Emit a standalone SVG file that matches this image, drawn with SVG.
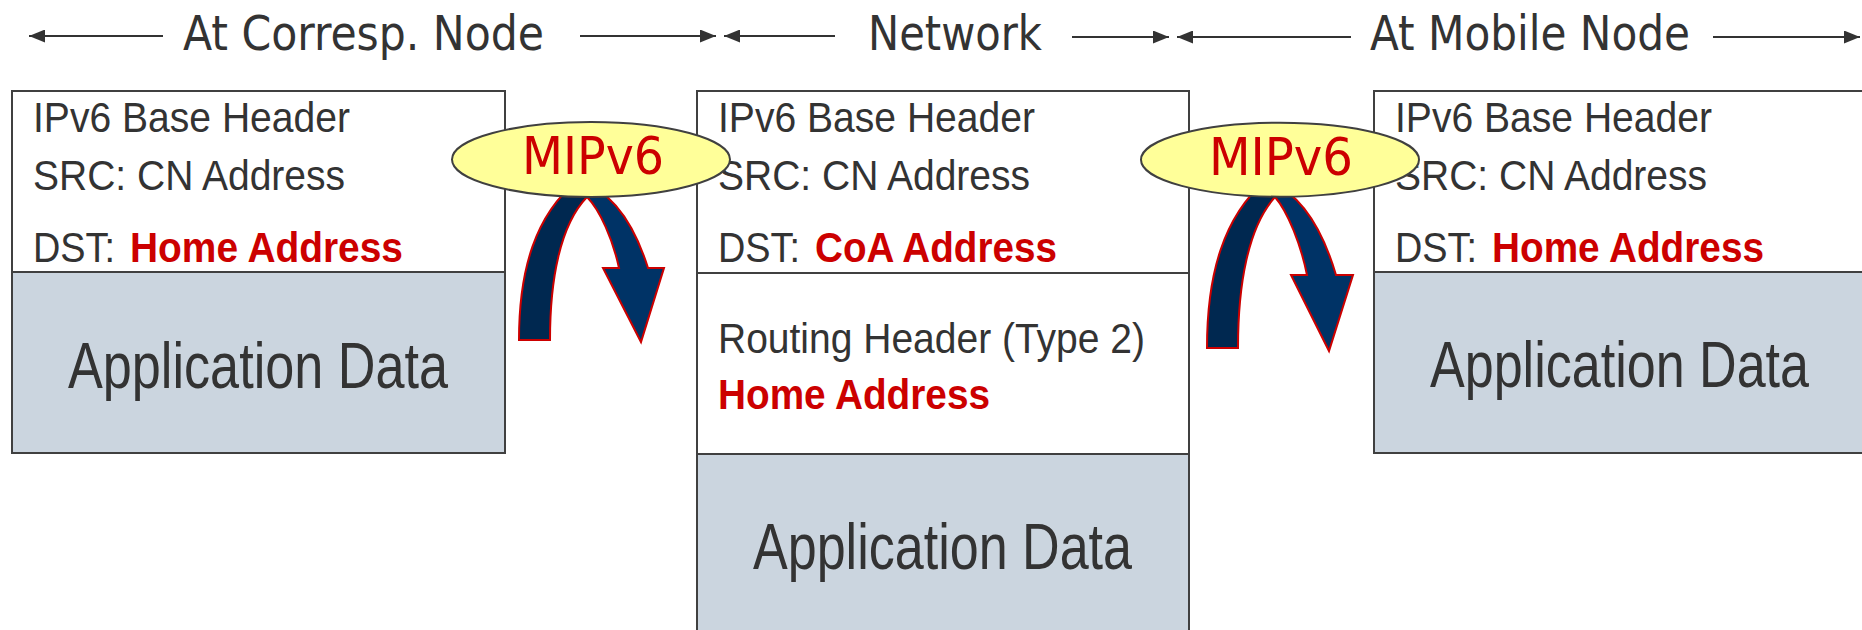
<svg xmlns="http://www.w3.org/2000/svg" width="1862" height="630" viewBox="0 0 1862 630">
  <style>
    .hdr { font-family: "DejaVu Sans Condensed", "DejaVu Sans", sans-serif; font-size: 48px; fill: #333333; }
    .box { fill: #ffffff; stroke: #404040; stroke-width: 2; }
    .data { fill: #cbd5df; stroke: #404040; stroke-width: 2; }
    .txt { font-family: "Liberation Sans", Arial, sans-serif; font-size: 42px; fill: #333333; }
    .red { font-family: "Liberation Sans", Arial, sans-serif; font-size: 42px; font-weight: bold; fill: #cc0000; }
    .big { font-family: "Liberation Sans", Arial, sans-serif; font-size: 52px; fill: #333333; }
    .span { stroke: #333333; stroke-width: 2; fill: none; marker-end: url(#head); }
    .oval { fill: #ffff99; stroke: #404040; stroke-width: 2; }
    .mip { font-family: "DejaVu Sans Condensed", "DejaVu Sans", sans-serif; font-size: 52px; fill: #cc0000; }
    .legA { fill: #002850; stroke: #cc0000; stroke-width: 2; stroke-linejoin: miter; }
    .legB { fill: #003366; stroke: #cc0000; stroke-width: 2; stroke-linejoin: miter; }
  </style>
  <defs>
    <marker id="head" markerUnits="userSpaceOnUse" markerWidth="16" markerHeight="13" refX="16" refY="6.5" orient="auto">
      <path d="M0,0 L16,6.5 L0,13 Z" fill="#333333"/>
    </marker>
  </defs>

  <!-- section labels -->
  <g id="label-cn">
    <text class="hdr" x="183" y="50" textLength="361" lengthAdjust="spacingAndGlyphs">At Corresp. Node</text>
  </g>
  <g id="label-net">
    <text class="hdr" x="868" y="50" textLength="174" lengthAdjust="spacingAndGlyphs">Network</text>
  </g>
  <g id="label-mn">
    <text class="hdr" x="1370" y="50" textLength="320" lengthAdjust="spacingAndGlyphs">At Mobile Node</text>
  </g>

  <!-- packet at the correspondent node -->
  <g id="packet-cn">
    <rect class="box" x="12" y="91" width="493" height="181"/>
    <rect class="data" x="12" y="272" width="493" height="181"/>
    <text class="txt" x="33" y="132" textLength="317" lengthAdjust="spacingAndGlyphs">IPv6 Base Header</text>
    <text class="txt" x="33" y="190" textLength="312" lengthAdjust="spacingAndGlyphs">SRC: CN Address</text>
    <text class="txt" x="33" y="262" textLength="82" lengthAdjust="spacingAndGlyphs">DST:</text>
    <text class="red" x="130" y="262" textLength="273" lengthAdjust="spacingAndGlyphs">Home Address</text>
    <text class="big" transform="translate(68,388) scale(1,1.23)" textLength="380" lengthAdjust="spacingAndGlyphs">Application Data</text>
  </g>

  <!-- packet in the network -->
  <g id="packet-net">
    <rect class="box" x="697" y="91" width="492" height="182"/>
    <rect class="box" x="697" y="273" width="492" height="181"/>
    <rect class="data" x="697" y="454" width="492" height="190"/>
    <text class="txt" x="718" y="132" textLength="317" lengthAdjust="spacingAndGlyphs">IPv6 Base Header</text>
    <text class="txt" x="718" y="190" textLength="312" lengthAdjust="spacingAndGlyphs">SRC: CN Address</text>
    <text class="txt" x="718" y="262" textLength="82" lengthAdjust="spacingAndGlyphs">DST:</text>
    <text class="red" x="815" y="262" textLength="242" lengthAdjust="spacingAndGlyphs">CoA Address</text>
    <text class="txt" x="718" y="353" textLength="427" lengthAdjust="spacingAndGlyphs">Routing Header (Type 2)</text>
    <text class="red" x="718" y="409" textLength="272" lengthAdjust="spacingAndGlyphs">Home Address</text>
    <text class="big" transform="translate(753,569) scale(1,1.23)" textLength="379" lengthAdjust="spacingAndGlyphs">Application Data</text>
  </g>

  <!-- packet at the mobile node -->
  <g id="packet-mn">
    <rect class="box" x="1374" y="91" width="500" height="181"/>
    <rect class="data" x="1374" y="272" width="500" height="181"/>
    <text class="txt" x="1395" y="132" textLength="317" lengthAdjust="spacingAndGlyphs">IPv6 Base Header</text>
    <text class="txt" x="1395" y="190" textLength="312" lengthAdjust="spacingAndGlyphs">SRC: CN Address</text>
    <text class="txt" x="1395" y="262" textLength="82" lengthAdjust="spacingAndGlyphs">DST:</text>
    <text class="red" x="1492" y="262" textLength="272" lengthAdjust="spacingAndGlyphs">Home Address</text>
    <text class="big" transform="translate(1430,387) scale(1,1.23)" textLength="379" lengthAdjust="spacingAndGlyphs">Application Data</text>
  </g>

  <!-- span arrows and header rewrite arrows -->
  <g id="connectors">
    <line class="span" x1="163" y1="36" x2="29" y2="36"/>
    <line class="span" x1="580" y1="36" x2="716" y2="36"/>
    <line class="span" x1="835" y1="36" x2="724" y2="36"/>
    <line class="span" x1="1072" y1="37" x2="1169" y2="37"/>
    <line class="span" x1="1351" y1="37" x2="1177" y2="37"/>
    <line class="span" x1="1713" y1="37" x2="1860" y2="37"/>

    <g id="turn-cn-net">
      <path class="legA" d="M519,340 C519,270 535,215 578,180 L587,197 C560,225 550,280 550,340 Z"/>
      <path class="legB" d="M578,180 Q625,195 648,268 L664,268 L641,342 L603,268 L619,268 C613,240 600,210 587,197 Z"/>
    </g>
    <g id="turn-net-mn">
      <path class="legA" d="M1207,348 C1207,275 1223,217 1266,180 L1275,197 C1248,227 1238,285 1238,348 Z"/>
      <path class="legB" d="M1266,180 Q1313,197 1336,275 L1353,275 L1329,351 L1291,275 L1307,275 C1301,245 1288,212 1275,197 Z"/>
    </g>
  </g>

  <!-- MIPv6 processing points -->
  <g id="mipv6-cn">
    <ellipse class="oval" cx="591" cy="159.5" rx="139" ry="37.5"/>
    <text class="mip" x="522" y="174" textLength="142" lengthAdjust="spacingAndGlyphs">MIPv6</text>
  </g>
  <g id="mipv6-mn">
    <ellipse class="oval" cx="1280" cy="159.7" rx="139" ry="37"/>
    <text class="mip" x="1209" y="175" textLength="144" lengthAdjust="spacingAndGlyphs">MIPv6</text>
  </g>
</svg>
